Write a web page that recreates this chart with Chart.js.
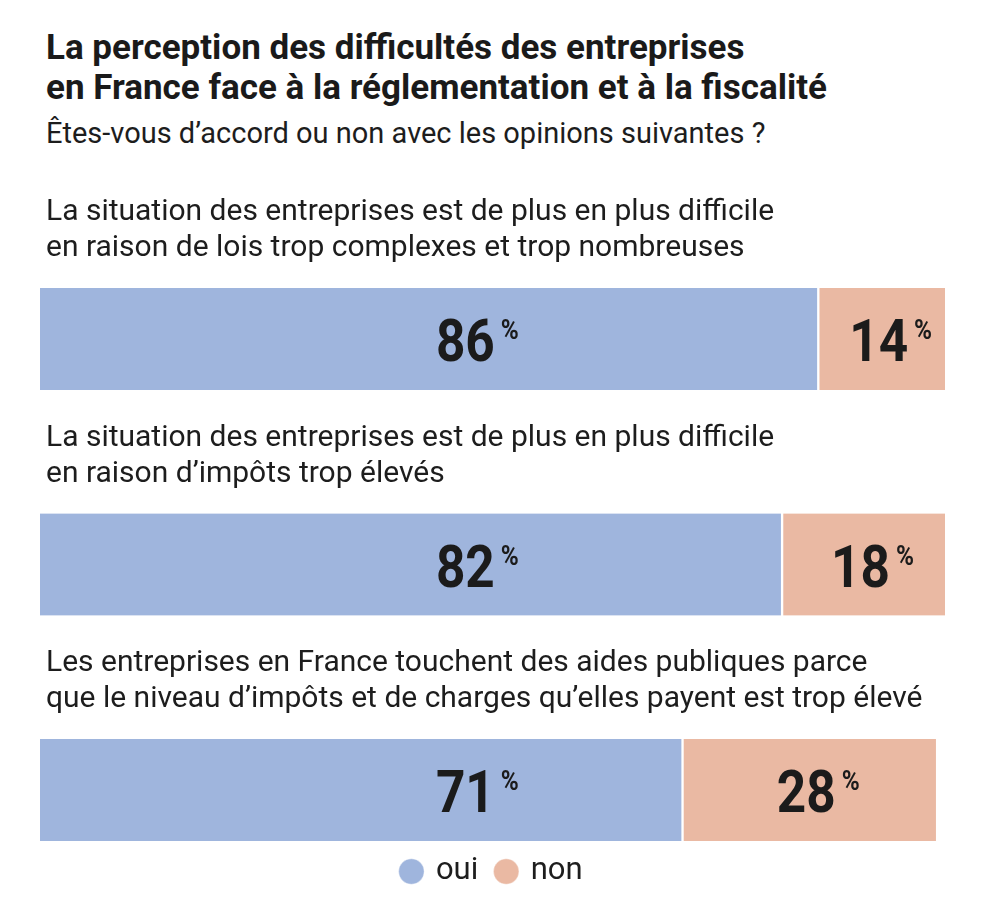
<!DOCTYPE html>
<html lang="fr">
<head>
<meta charset="utf-8">
<script src="https://cdn.jsdelivr.net/npm/chart.js@4.4.1/dist/chart.umd.min.js"></script>
<style>
  html, body { margin: 0; padding: 0; background: #fff; }
  body { width: 1000px; height: 907px; position: relative; overflow: hidden; font-family: Roboto, "Noto Sans", sans-serif; color: #1d1d1d; }
  .head { position: absolute; left: 46px; white-space: nowrap; margin: 0; }
  #title { top: 28px; font-weight: 700; font-size: 35px; line-height: 40px; color: #1a1a1a; }
  #subtitle { top: 116px; font-weight: 400; font-size: 29px; line-height: 34px; }
  #wrap { position: absolute; left: 0; top: 0; width: 1000px; height: 907px; }
</style>
</head>
<body>
<h1 class="head" id="title">La perception des difficultés des entreprises<br>en France face à la réglementation et à la fiscalité</h1>
<p class="head" id="subtitle">Êtes-vous d’accord ou non avec les opinions suivantes ?</p>
<div id="wrap"><canvas id="chart"></canvas></div>
<script>
const questions = [
    ['La situation des entreprises est de plus en plus difficile', 'en raison de lois trop complexes et trop nombreuses'],
    ['La situation des entreprises est de plus en plus difficile', 'en raison d’impôts trop élevés'],
    ['Les entreprises en France touchent des aides publiques parce', 'que le niveau d’impôts et de charges qu’elles payent est trop élevé']
];
const ouiValues = [86, 82, 71];
const nonValues = [14, 18, 28];
const seriesNames = ['oui', 'non'];
const seriesColors = ['#9fb5dd', '#eab9a3'];

const figureSqueeze = 0.87; // the big figures use a narrow cut
const ouiLabelAt = 47; // oui figures sit at the same spot on every row

function drawText(ctx, text, x, y, font, align, squeeze) {
    ctx.save();
    ctx.font = font;
    const w = ctx.measureText(text).width * squeeze;
    const x0 = align === 'center' ? x - w / 2 : x;
    ctx.translate(x0, y);
    ctx.scale(squeeze, 1);
    ctx.textAlign = 'left';
    ctx.textBaseline = 'alphabetic';
    ctx.fillText(text, 0, 0);
    ctx.restore();
    return w;
}

function drawPercent(ctx, value, cx, yc) {
    ctx.fillStyle = '#1b1b1b';
    const base = yc + 22;
    const w = drawText(ctx, String(value), cx, base, 'bold 59px Roboto', 'center', figureSqueeze);
    drawText(ctx, '%', cx + w / 2 + 6, base - 42 + 20, 'bold 28px Roboto', 'left', figureSqueeze);
}

const rowLabels = {
    id: 'rowLabels',
    afterDatasetsDraw(chart) {
        const {ctx, scales: {x, y}} = chart;
        const half = chart.options.datasets.bar.barThickness / 2;
        chart.data.labels.forEach((lines, i) => {
            const yc = y.getPixelForValue(i);
            const top = yc - half;
            ctx.fillStyle = '#1d1d1d';
            drawText(ctx, lines[0], 46, top - 68, '400 30px Roboto', 'left', 1);
            drawText(ctx, lines[1], 46, top - 32, '400 30px Roboto', 'left', 1);

            const oui = chart.data.datasets[0].data[i];
            const non = chart.data.datasets[1].data[i];
            drawPercent(ctx, oui, x.getPixelForValue(ouiLabelAt), yc);
            drawPercent(ctx, non, x.getPixelForValue(oui + non / 2) - 3, yc);
        });
    }
};

const ctx = document.getElementById('chart').getContext('2d');
new Chart(ctx, {
    type: 'bar',
    data: {
        labels: questions,
        datasets: [
            {
                label: seriesNames[0],
                data: ouiValues,
                backgroundColor: seriesColors[0],
                borderColor: '#ffffff',
                borderWidth: {right: 1.5}
            },
            {
                label: seriesNames[1],
                data: nonValues,
                backgroundColor: seriesColors[1],
                borderColor: '#ffffff',
                borderWidth: {left: 1.5}
            }
        ]
    },
    options: {
        indexAxis: 'y',
        responsive: true,
        maintainAspectRatio: false,
        animation: false,
        datasets: {
            bar: {
                barThickness: 102,
                borderSkipped: false,
                clip: false
            }
        },
        layout: {
            padding: {top: 339, left: 40, right: 55, bottom: 10}
        },
        plugins: {
            legend: {
                display: true,
                position: 'bottom',
                labels: {
                    usePointStyle: true,
                    pointStyle: 'circle',
                    boxWidth: 18,
                    boxHeight: 18,
                    padding: 19,
                    color: '#1d1d1d',
                    font: {family: 'Roboto', size: 31}
                }
            },
            tooltip: {enabled: false}
        },
        scales: {
            x: {
                stacked: true,
                min: 0,
                max: 100,
                grid: {display: false},
                border: {display: false},
                ticks: {display: false},
                afterFit: (scale) => {
                    scale.height = 47;
                }
            },
            y: {
                stacked: true,
                offset: false,
                display: false
            }
        }
    },
    plugins: [rowLabels]
});
</script>
</body>
</html>
